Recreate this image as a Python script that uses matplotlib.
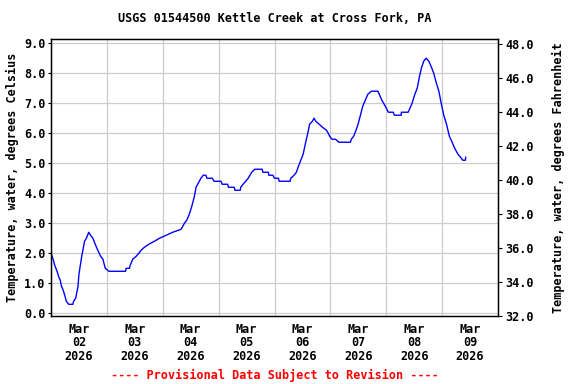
"""USGS 01544500 Kettle Creek at Cross Fork, PA - water temperature, Mar 2-9 2026."""

import matplotlib as mpl
mpl.use("Agg")
import matplotlib.pyplot as plt
import matplotlib.dates as mdates
import numpy as np
import pandas as pd

# hours since 2026-03-02 00:00
HOURS = [
    0.0, 0.9, 1.6, 2.6, 3.4, 4.0, 4.5, 5.1, 5.9, 6.6, 7.6, 9.4, 9.7, 10.6, 11.1,
    11.6, 12.0, 12.6, 13.2, 13.7, 14.4, 15.2, 16.2, 17.0, 18.0, 19.0, 20.1, 21.3,
    22.3, 23.3, 24.9,
    32.0, 32.3, 33.7, 34.0, 35.1, 36.6, 37.7, 38.7, 40.1, 42.0, 44.4, 46.6,
    49.5, 52.3, 55.9, 57.3, 58.3, 59.4, 60.6, 61.6, 62.3, 63.0, 64.4, 65.4, 66.5,
    67.0, 69.3, 70.0,
    73.0, 73.5, 75.9, 76.2, 78.7, 79.0, 81.3, 81.5, 82.5, 83.6, 84.7, 86.2, 87.6,
    90.7, 91.0, 93.3, 93.6, 95.3,
    96.0, 97.7, 98.0, 102.7, 103.0, 104.4, 105.4, 106.3, 107.3, 108.3, 109.4,
    110.3, 111.1, 112.3, 113.0, 113.7, 115.2, 116.6, 118.3, 119.1,
    119.7, 120.7, 122.2, 123.6, 128.6, 129.0, 130.0, 131.0, 131.9, 132.9, 133.9,
    135.0, 136.1, 137.6, 140.4, 141.0, 142.1, 143.6,
    144.9, 147.0, 147.5, 150.4, 150.5, 153.4, 154.0, 155.1, 156.3, 157.3, 158.3,
    159.2, 160.1, 161.1, 162.3, 163.4, 164.4, 165.4, 166.6, 167.6,
    168.7, 169.9, 171.1, 172.3, 173.4, 174.8, 175.9, 176.9, 178.0, 178.1,
]
TEMP_C = [
    2.0, 1.8, 1.6, 1.4, 1.2, 1.1, 0.9, 0.8, 0.6, 0.4, 0.3, 0.3, 0.4, 0.5, 0.7,
    0.9, 1.3, 1.6, 1.9, 2.1, 2.4, 2.5, 2.7, 2.6, 2.5, 2.3, 2.1, 1.9,
    1.8, 1.5, 1.4,
    1.4, 1.5, 1.5, 1.6, 1.8, 1.9, 2.0, 2.1, 2.2, 2.3, 2.4, 2.5,
    2.6, 2.7, 2.8, 3.0, 3.1, 3.3, 3.6, 3.9, 4.2, 4.3, 4.5, 4.6, 4.6,
    4.5, 4.5, 4.4,
    4.4, 4.3, 4.3, 4.2, 4.2, 4.1, 4.1, 4.2, 4.3, 4.4, 4.5, 4.7, 4.8,
    4.8, 4.7, 4.7, 4.6, 4.6,
    4.5, 4.5, 4.4, 4.4, 4.5, 4.6, 4.7, 4.9, 5.1, 5.3, 5.7,
    6.0, 6.3, 6.4, 6.5, 6.4, 6.3, 6.2, 6.1, 6.0,
    5.9, 5.8, 5.8, 5.7, 5.7, 5.8, 5.9, 6.1, 6.3, 6.6, 6.9,
    7.1, 7.3, 7.4, 7.4, 7.3, 7.1, 6.9,
    6.7, 6.7, 6.6, 6.6, 6.7, 6.7, 6.8, 7.0, 7.3, 7.5, 7.9,
    8.2, 8.4, 8.5, 8.4, 8.2, 8.0, 7.7, 7.4, 7.0,
    6.6, 6.3, 5.9, 5.7, 5.5, 5.3, 5.2, 5.1, 5.1, 5.2,
]
START = pd.Timestamp("2026-03-02")
END = pd.Timestamp("2026-03-10")

C_TICKS = np.arange(0, 10, 1.0)
F_TICKS = np.arange(32, 50, 2.0)

FONT = dict(family="DejaVu Sans Mono", weight="bold", size=8.5)


def main() -> None:
    times = START + pd.to_timedelta(HOURS, unit="h")

    fig = plt.figure(figsize=(5.76, 3.84), dpi=100)
    ax = fig.add_axes([51 / 576, 1 - 316 / 384, 447 / 576, 277 / 384])

    ax.plot(times, TEMP_C, color="#0000ff", linewidth=1.0)

    ax.set_xlim(START, END)
    ax.set_ylim(-0.09, 9.14)
    ax.set_yticks(C_TICKS)
    ax.set_yticklabels([f"{v:.1f}" for v in C_TICKS], **FONT)
    ax.set_ylabel("Temperature, water, degrees Celsius", labelpad=4, **FONT)

    ax.xaxis.set_major_locator(mdates.DayLocator())
    ax.xaxis.set_major_formatter(mpl.ticker.NullFormatter())
    ax.xaxis.set_minor_locator(mdates.HourLocator(byhour=[12]))
    ax.xaxis.set_minor_formatter(mdates.DateFormatter("%b\n%d\n%Y"))
    for lab in ax.xaxis.get_minorticklabels():
        lab.set_fontfamily("DejaVu Sans Mono")
        lab.set_fontweight("bold")
        lab.set_fontsize(8.5)
        lab.set_linespacing(1.05)
    ax.tick_params(axis="x", which="both", length=0, pad=5)
    ax.tick_params(axis="y", length=2, pad=2)

    ax.grid(True, which="major", color="#cccccc", linewidth=0.9)
    ax.set_axisbelow(True)
    for spine in ax.spines.values():
        spine.set_linewidth(1.0)

    right = ax.twinx()
    right.set_ylim(31.98, 48.28)
    right.set_yticks(F_TICKS)
    right.set_yticklabels([f"{v:.1f}" for v in F_TICKS], **FONT)
    right.tick_params(axis="y", length=3, pad=2)
    right.set_ylabel("Temperature, water, degrees Fahrenheit", labelpad=13, **FONT)

    fig.text(274.5 / 576, 1 - 19 / 384, "USGS 01544500 Kettle Creek at Cross Fork, PA",
             ha="center", va="center", **FONT)
    fig.text(274.5 / 576, 1 - 375 / 384, "---- Provisional Data Subject to Revision ----",
             ha="center", va="center", color="#ff0000", **FONT)

    fig.savefig("out.png", dpi=100)


if __name__ == "__main__":
    main()
